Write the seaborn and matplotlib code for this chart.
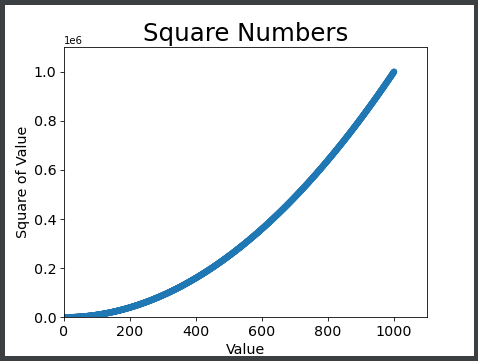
import matplotlib
matplotlib.use("Agg")
import matplotlib.pyplot as plt
import seaborn as sns
import pandas as pd
from matplotlib.patches import Rectangle

# Data: square numbers 1..1000
x_values = list(range(1, 1001))
y_values = [x * x for x in x_values]
df = pd.DataFrame({"Value": x_values, "Square": y_values})

DPI = 73.3
W, H = 478, 361
fig = plt.figure(figsize=(W / DPI, H / DPI), dpi=DPI, facecolor="#3c3f41")

# white inner canvas (screenshot frame)
x0, y0, x1, y1 = 5, 5, 474, 356  # pixels from top-left
fig.patches.append(Rectangle((x0 / W, 1 - y1 / H), (x1 - x0) / W, (y1 - y0) / H,
                             transform=fig.transFigure, facecolor="white",
                             edgecolor="none", zorder=-10))

iw, ih = x1 - x0, y1 - y0
left = (x0 + 0.125 * iw) / W
right = (x0 + 0.9 * iw) / W
bottom = 1 - (y0 + (1 - 0.11) * ih) / H
top = 1 - (y0 + (1 - 0.88) * ih) / H
ax = fig.add_axes([left, bottom, right - left, top - bottom])
ax.set_zorder(5)

sns.scatterplot(data=df, x="Value", y="Square", ax=ax, s=40,
                color="#1f77b4", edgecolor="none", linewidth=0)

ax.set_title("Square Numbers", fontsize=24)
ax.set_xlabel("Value", fontsize=14)
ax.set_ylabel("Square of Value", fontsize=14)
ax.tick_params(axis="both", labelsize=14)
ax.set_xlim(0, 1100)
ax.set_ylim(0, 1100000)

fig.savefig("out.png", dpi=DPI, facecolor=fig.get_facecolor())
